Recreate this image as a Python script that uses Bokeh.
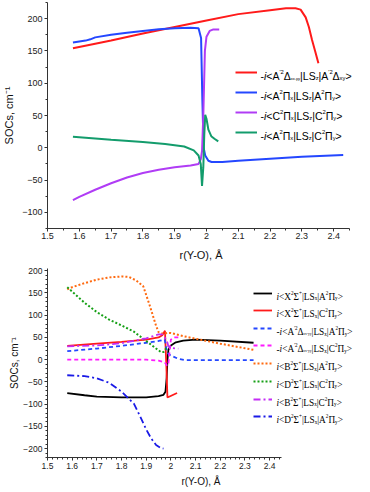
from bokeh.plotting import figure
from bokeh.models import Range1d, SingleIntervalTicker, Label, Legend, LegendItem
from bokeh.layouts import column
from bokeh.embed import file_html
from bokeh.resources import INLINE

# ---------------- top chart data ----------------
t_red_x = [1.58, 1.65, 1.7, 1.8, 1.9, 2.0, 2.1, 2.2, 2.25, 2.28, 2.296, 2.312, 2.322, 2.332, 2.342, 2.352]
t_red_y = [154, 161, 166, 177, 187, 197, 207, 213, 216, 216, 214, 202, 187, 167, 149, 131]

t_blue_x = [1.58, 1.62, 1.635, 1.65, 1.7, 1.75, 1.8, 1.85, 1.9, 1.95, 1.975, 1.983, 1.987, 1.991, 1.996,
            2.006, 2.016, 2.05, 2.1, 2.2, 2.3, 2.43]
t_blue_y = [163, 166, 168, 171, 175, 178, 181, 183.5, 185, 186, 185, 170, 75, 0, -12,
            -20, -22, -22, -20, -17, -14, -11]

t_purple_x = [1.58, 1.6, 1.65, 1.7, 1.75, 1.8, 1.85, 1.9, 1.95, 1.975, 1.982, 1.986, 1.99, 1.995, 2.0,
              2.01, 2.02, 2.04]
t_purple_y = [-81, -76, -65, -55, -46, -39, -34, -30, -27.5, -25, -18, -5, 50, 150, 172, 181, 183, 183]

t_green_x = [1.58, 1.7, 1.8, 1.87, 1.93, 1.96, 1.975, 1.982, 1.986, 1.99, 1.993, 1.996, 2.0, 2.006,
             2.015, 2.025, 2.037]
t_green_y = [17, 12.5, 9, 6, 2, -4, -12, -25, -59, -30, 20, 51, 45, 28, 18, 14, 10]

t_labels = [
    "-*{i}<A^{'2}Δ~{xx-yy}|LS_{z}|A^{'2}Δ_{xy}>",
    "-*{i}<A^{2}Π_{x}|LS_{z}|A^{2}Π_{y}>",
    "-*{i}<C^{2}Π_{x}|LS_{z}|C^{2}Π_{y}>",
    "-*{i}<A^{2}Π_{x}|LS_{z}|C^{2}Π_{y}>",
]

# ---------------- bottom chart data ----------------
b_black_x = [1.58, 1.65, 1.7, 1.8, 1.9, 1.95, 1.97, 1.978, 1.983, 1.986, 1.99, 2.0, 2.02, 2.05, 2.1, 2.2, 2.335]
b_black_y = [-75, -80, -83, -85, -85, -82, -79, -72, -40, 0, 22, 32, 39, 43, 45, 43, 38]

b_red_x = [1.58, 1.7, 1.8, 1.9, 1.95, 1.965, 1.976, 1.982, 1.986, 2.025]
b_red_y = [31, 36, 40, 45, 50, 55, 65, -20, -85, -75]

b_bluedash_x = [1.58, 1.7, 1.8, 1.9, 1.95, 1.975, 1.98, 1.985, 2.0, 2.03, 2.06, 2.335]
b_bluedash_y = [19, 25, 31, 38, 42, 45, 30, 15, 9, 2, -1, -1]

b_magdash_x = [1.58, 1.9, 1.95, 1.975, 1.985, 1.99, 1.995, 2.0, 2.01, 2.03]
b_magdash_y = [0, 0, -2, -6, -14, -8, 20, 45, 50, 50]

b_orange_x = [1.58, 1.6, 1.65, 1.7, 1.75, 1.8, 1.83, 1.86, 1.888, 1.913, 1.94, 1.95, 1.97, 1.985, 2.0,
              2.05, 2.1, 2.2, 2.335]
b_orange_y = [158, 163, 172, 180, 185, 187, 186, 178, 165, 124, 76, 62, 58, 60, 60, 53, 47, 36, 22]

b_green_x = [1.58, 1.6, 1.65, 1.7, 1.75, 1.8, 1.85, 1.9, 1.94, 1.96, 1.97, 1.98, 1.99]
b_green_y = [163, 153, 128, 107, 90, 77, 63, 42, 25, 17, 17, 25, 30]

b_violet_x = [1.58, 1.7, 1.8, 1.9, 1.95, 1.965, 1.975, 1.985, 1.99, 2.0, 2.03]
b_violet_y = [30, 32, 37, 48, 57, 57, 50, 40, 30, 26, 25]

b_bluedd_x = [1.58, 1.65, 1.7, 1.75, 1.8, 1.85, 1.875, 1.9, 1.92, 1.94, 1.96, 1.97]
b_bluedd_y = [-35, -37, -42, -52, -72, -99, -127, -157, -177, -192, -199, -200]

b_labels = [
    "*{i}<X^{2}Σ^{+}|LS_{x}|A^{2}Π_{y}>",
    "*{i}<X^{2}Σ^{+}|LS_{x}|C^{2}Π_{y}>",
    "-*{i}<A^{'2}Δ~{xx-yy}|LS_{x}|A^{2}Π_{y}>",
    "-*{i}<A^{'2}Δ~{xx-yy}|LS_{x}|C^{2}Π_{y}>",
    "*{i}<B^{2}Σ^{+}|LS_{x}|A^{2}Π_{y}>",
    "*{i}<D^{2}Σ^{+}|LS_{x}|C^{2}Π_{y}>",
    "*{i}<B^{2}Σ^{+}|LS_{x}|C^{2}Π_{y}>",
    "*{i}<D^{2}Σ^{+}|LS_{x}|A^{2}Π_{y}>",
]

x_title = "r(Y-O), Å"
y_title = "SOCs, cm⁻¹"

SANS_W = {'-': .333, 'i': .222, '<': .584, '>': .584, 'A': .667, "'": .191, 'Δ': .668, 'Π': .722,
          '|': .26, 'L': .556, 'S': .667, 'C': .722, 'x': .5, 'y': .5, 'z': .5, '2': .556}
SERIF_W = {'-': .333, 'i': .278, '<': .564, '>': .564, 'A': .722, "'": .18, 'Δ': .612, 'Π': .722,
           'Σ': .592, '+': .564, '|': .2, 'L': .611, 'S': .556, 'C': .667, 'B': .667, 'D': .722,
           'X': .722, 'x': .5, 'y': .5, '2': .5}

KINDS = {"^": "sup", "_": "sub", "~": "tiny", "*": "it"}


def parse(s):
    segs = []
    i = 0
    buf = ""
    while i < len(s):
        c = s[i]
        if c in KINDS and i + 1 < len(s) and s[i + 1] == "{":
            if buf:
                segs.append((buf, "n"))
                buf = ""
            j = s.index("}", i)
            segs.append((s[i + 2:j], KINDS[c]))
            i = j + 1
        else:
            buf += c
            i += 1
    if buf:
        segs.append((buf, "n"))
    return segs


def rich(p, x0, yc, s, font, size, widths):
    x = x0
    base = yc - 0.36 * size
    for txt, kind in parse(s):
        if kind == "sup":
            fs, y = size * 0.55, base + 0.42 * size
        elif kind == "sub":
            fs, y = size * 0.55, base - 0.2 * size
        elif kind == "tiny":
            fs, y = size * 0.38, base - 0.18 * size
        else:
            fs, y = size, base
        p.add_layout(Label(x=x, y=y, x_units="screen", y_units="screen", text=txt,
                           text_font=font, text_font_size=f"{fs:.1f}px", text_color="black",
                           text_baseline="alphabetic", text_align="left",
                           text_font_style="italic" if kind == "it" else "normal"))
        x += sum(widths.get(ch, 0.55) for ch in txt) * fs


def style(p, tick_size, title_size, ystand, xstand):
    p.outline_line_color = None
    p.xgrid.visible = False
    p.ygrid.visible = False
    for ax in (p.xaxis[0], p.yaxis[0]):
        ax.axis_line_color = "#333333"
        ax.major_tick_line_color = "#333333"
        ax.minor_tick_line_color = "#333333"
        ax.major_tick_out = 3
        ax.major_tick_in = 0
        ax.minor_tick_out = 2
        ax.minor_tick_in = 0
        ax.major_label_text_font = "Liberation Sans"
        ax.major_label_text_font_size = f"{tick_size}px"
        ax.major_label_text_color = "#222222"
        ax.axis_label_text_font = "Liberation Sans"
        ax.axis_label_text_font_size = f"{title_size}px"
        ax.axis_label_text_font_style = "normal"
        ax.axis_label_text_color = "#111111"
    p.xaxis[0].bounds = (1.5, 2.45)
    p.xaxis[0].major_label_standoff = 1
    p.yaxis[0].major_label_standoff = 2
    p.xaxis[0].axis_label_standoff = xstand
    p.yaxis[0].axis_label_standoff = ystand
    p.xaxis[0].axis_label = x_title
    p.yaxis[0].axis_label = y_title


def legend_row(p, r, lx, fy, gw):
    leg = Legend(items=[LegendItem(label=" ", renderers=[r])], location=(lx, fy - 5),
                 glyph_width=gw, glyph_height=10, spacing=0, padding=0, margin=0, label_standoff=0,
                 label_width=0, label_height=0, label_text_font_size="1px",
                 border_line_alpha=0, background_fill_alpha=0)
    p.add_layout(leg)


# ---------------- top figure ----------------
p1 = figure(width=354, height=263, x_range=Range1d(1.5, 2.4655), y_range=Range1d(-125, 225),
            output_backend="svg", toolbar_location=None,
            min_border_left=41, min_border_right=0, min_border_top=2, min_border_bottom=31)
p1.xaxis[0].ticker = SingleIntervalTicker(interval=0.1, num_minor_ticks=2)
p1.yaxis[0].ticker = SingleIntervalTicker(interval=50, num_minor_ticks=2)
style(p1, 9, 11, 4, 7)

r1 = p1.line(t_red_x, t_red_y, line_color="#ff1a1a", line_width=2)
r2 = p1.line(t_blue_x, t_blue_y, line_color="#2447ff", line_width=2)
r3 = p1.line(t_purple_x, t_purple_y, line_color="#b03cf5", line_width=2)
r4 = p1.line(t_green_x, t_green_y, line_color="#139c6c", line_width=2)

top_rows = [156, 136, 116, 96]
for r, fy, s in zip([r1, r2, r3, r4], top_rows, t_labels):
    legend_row(p1, r, 188, fy, 22)
    rich(p1, 213, fy, s, "Liberation Sans", 10.5, SANS_W)

# ---------------- bottom figure ----------------
p2 = figure(width=354, height=226, x_range=Range1d(1.5, 2.744), y_range=Range1d(-220, 205),
            output_backend="svg", toolbar_location=None,
            min_border_left=41, min_border_right=0, min_border_top=5, min_border_bottom=29)
p2.xaxis[0].ticker = SingleIntervalTicker(interval=0.1, num_minor_ticks=5)
p2.yaxis[0].ticker = SingleIntervalTicker(interval=50, num_minor_ticks=5)
style(p2, 8.5, 10, 0, 4)
p2.xaxis[0].major_label_standoff = 2

s1 = p2.line(b_black_x, b_black_y, line_color="black", line_width=1.8)
s2 = p2.line(b_red_x, b_red_y, line_color="#ff1a1a", line_width=1.8)
s3 = p2.line(b_bluedash_x, b_bluedash_y, line_color="#2447ff", line_width=1.8, line_dash="4 3")
s4 = p2.line(b_magdash_x, b_magdash_y, line_color="#ff1aff", line_width=1.8, line_dash="4 3")
s5 = p2.line(b_orange_x, b_orange_y, line_color="#ff6a10", line_width=2, line_dash="2 2")
s6 = p2.line(b_green_x, b_green_y, line_color="#16a016", line_width=2, line_dash="2 2")
s7 = p2.line(b_violet_x, b_violet_y, line_color="#c42cf5", line_width=1.8, line_dash="7 3 2 3")
s8 = p2.line(b_bluedd_x, b_bluedd_y, line_color="#1a1ae6", line_width=1.8, line_dash="7 3 2 3")

bot_rows = [164.3, 146.7, 129, 111.7, 94, 76.3, 58.3, 40.7]
for r, fy, s in zip([s1, s2, s3, s4, s5, s6, s7, s8], bot_rows, b_labels):
    legend_row(p2, r, 206, fy, 19)
    rich(p2, 229, fy, s, "Liberation Serif", 9.3, SERIF_W)

layout = column(p1, p2, spacing=0)
open("out.html", "w").write(file_html(layout, INLINE))
